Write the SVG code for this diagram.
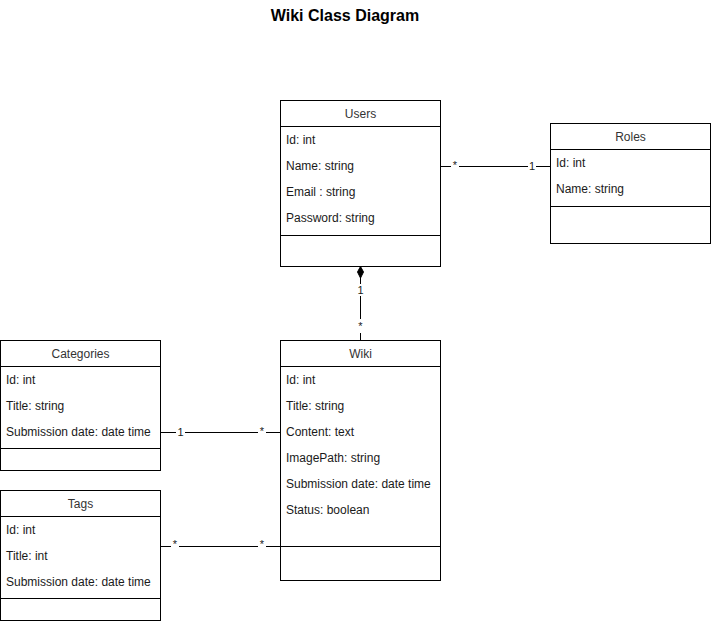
<svg xmlns="http://www.w3.org/2000/svg" width="711" height="621" viewBox="0 0 711 621">
<style>
.box{fill:#fff;stroke:#000;stroke-width:1}
.ln{stroke:#000;stroke-width:1;fill:none}
.hd{font-family:"Liberation Sans",Arial,sans-serif;font-size:12px;fill:#333;text-anchor:middle}
.at{font-family:"Liberation Sans",Arial,sans-serif;font-size:12px;fill:#1a1a1a}
.lb{font-family:"Liberation Sans",Arial,sans-serif;font-size:11px;fill:#1a1a1a;text-anchor:middle}
.bg{fill:#fff}
.title{font-family:"Liberation Sans",Arial,sans-serif;font-size:16px;font-weight:bold;fill:#000;text-anchor:middle}
</style>
<rect width="711" height="621" fill="#fff"/>
<text class="title" x="345" y="21">Wiki Class Diagram</text>

<g id="connectors">
  <line class="ln" x1="440.5" y1="166.5" x2="550.5" y2="166.5"/>
  <rect class="bg" x="451" y="158" width="8" height="12"/>
  <text class="lb" x="455" y="169">*</text>
  <rect class="bg" x="528" y="158" width="8" height="12"/>
  <text class="lb" x="532" y="170">1</text>

  <line class="ln" x1="360.5" y1="266.5" x2="360.5" y2="340.5"/>
  <path d="M360.5 266.5 L363.5 272 L360.5 278 L357.5 272 Z" fill="#000" stroke="#000" stroke-width="1"/>
  <rect class="bg" x="356" y="284" width="9" height="12"/>
  <text class="lb" x="360.5" y="294">1</text>
  <rect class="bg" x="356" y="319" width="9" height="14"/>
  <text class="lb" x="360.5" y="330">*</text>

  <line class="ln" x1="160.5" y1="432.5" x2="280.5" y2="432.5"/>
  <rect class="bg" x="176" y="425" width="9" height="14"/>
  <text class="lb" x="180.5" y="436">1</text>
  <rect class="bg" x="258" y="424" width="8" height="12"/>
  <text class="lb" x="262" y="435">*</text>

  <line class="ln" x1="160.5" y1="546.5" x2="280.5" y2="546.5"/>
  <rect class="bg" x="171" y="537" width="8" height="12"/>
  <text class="lb" x="175" y="548">*</text>
  <rect class="bg" x="258" y="537" width="8" height="12"/>
  <text class="lb" x="262" y="548">*</text>
</g>

<g id="users">
  <rect class="box" x="280.5" y="100.5" width="160" height="166"/>
  <line class="ln" x1="280.5" y1="126.5" x2="440.5" y2="126.5"/>
  <line class="ln" x1="280.5" y1="235.5" x2="440.5" y2="235.5"/>
  <text class="hd" x="360.5" y="118">Users</text>
  <text class="at" x="286" y="144">Id: int</text>
  <text class="at" x="286" y="170">Name: string</text>
  <text class="at" x="286" y="196">Email : string</text>
  <text class="at" x="286" y="222">Password: string</text>
</g>

<g id="roles">
  <rect class="box" x="550.5" y="123.5" width="160" height="120"/>
  <line class="ln" x1="550.5" y1="149.5" x2="710.5" y2="149.5"/>
  <line class="ln" x1="550.5" y1="206.5" x2="710.5" y2="206.5"/>
  <text class="hd" x="630.5" y="141">Roles</text>
  <text class="at" x="556" y="167">Id: int</text>
  <text class="at" x="556" y="193">Name: string</text>
</g>

<g id="wiki">
  <rect class="box" x="280.5" y="340.5" width="160" height="240"/>
  <line class="ln" x1="280.5" y1="366.5" x2="440.5" y2="366.5"/>
  <line class="ln" x1="280.5" y1="546.5" x2="440.5" y2="546.5"/>
  <text class="hd" x="360.5" y="358">Wiki</text>
  <text class="at" x="286" y="384">Id: int</text>
  <text class="at" x="286" y="410">Title: string</text>
  <text class="at" x="286" y="436">Content: text</text>
  <text class="at" x="286" y="462">ImagePath: string</text>
  <text class="at" x="286" y="488">Submission date: date time</text>
  <text class="at" x="286" y="514">Status: boolean</text>
</g>

<g id="categories">
  <rect class="box" x="0.5" y="340.5" width="160" height="130"/>
  <line class="ln" x1="0.5" y1="366.5" x2="160.5" y2="366.5"/>
  <line class="ln" x1="0.5" y1="448.5" x2="160.5" y2="448.5"/>
  <text class="hd" x="80.5" y="358">Categories</text>
  <text class="at" x="6" y="384">Id: int</text>
  <text class="at" x="6" y="410">Title: string</text>
  <text class="at" x="6" y="436">Submission date: date time</text>
</g>

<g id="tags">
  <rect class="box" x="0.5" y="490.5" width="160" height="130"/>
  <line class="ln" x1="0.5" y1="516.5" x2="160.5" y2="516.5"/>
  <line class="ln" x1="0.5" y1="598.5" x2="160.5" y2="598.5"/>
  <text class="hd" x="80.5" y="508">Tags</text>
  <text class="at" x="6" y="534">Id: int</text>
  <text class="at" x="6" y="560">Title: int</text>
  <text class="at" x="6" y="586">Submission date: date time</text>
</g>
</svg>
